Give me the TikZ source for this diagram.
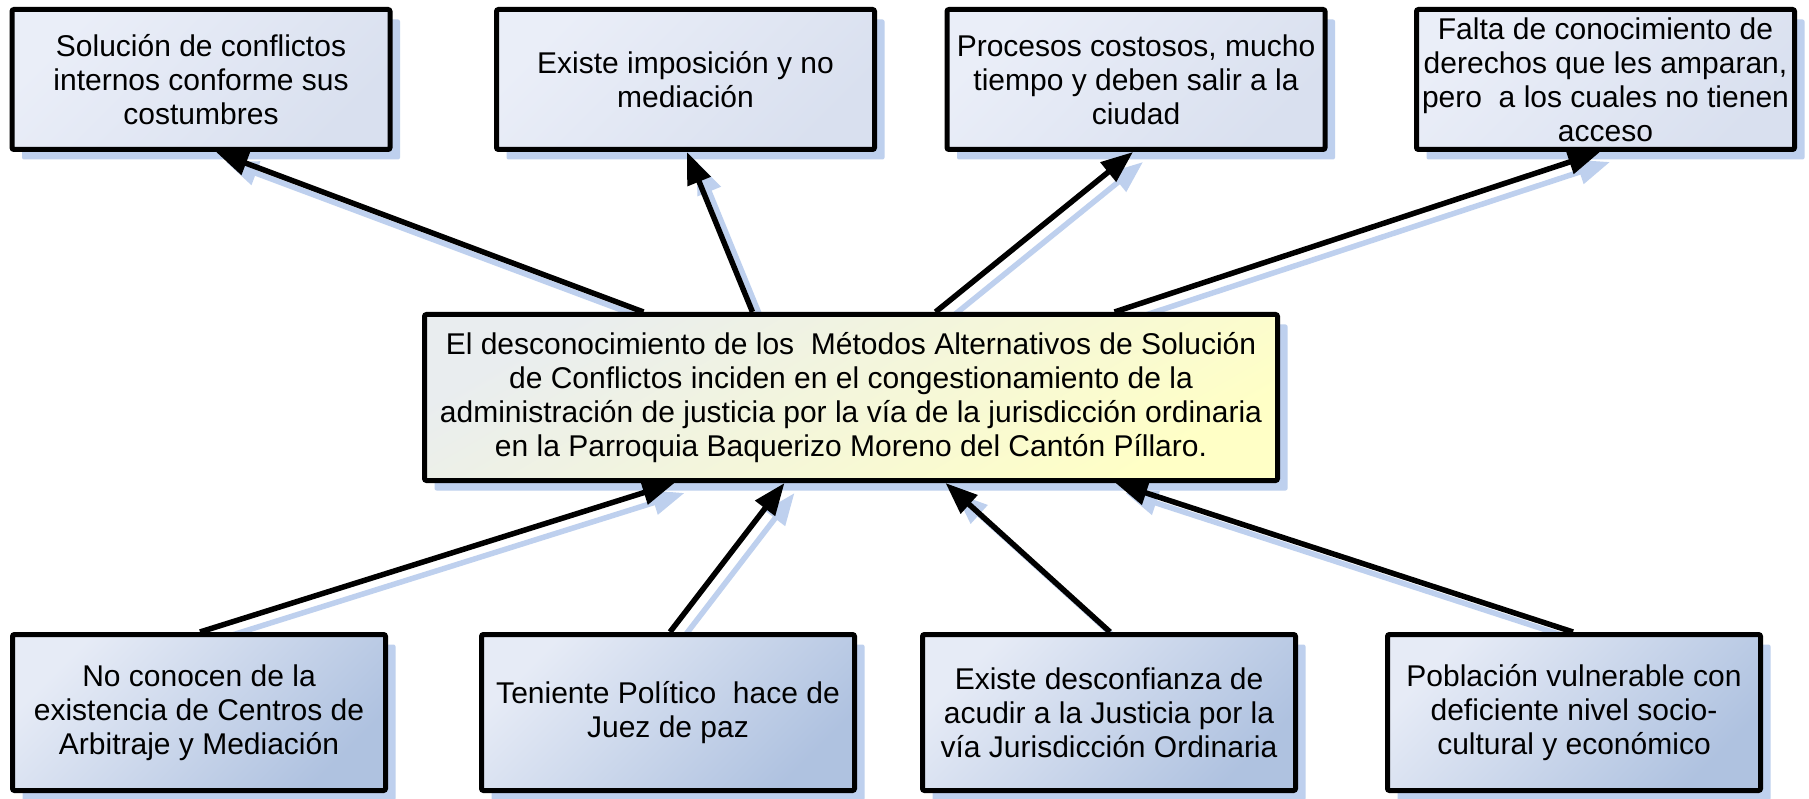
\documentclass[tikz,border=0pt]{standalone}
\usepackage{fontspec}
\setmainfont{Liberation Sans}
\usetikzlibrary{arrows.meta,shadows,backgrounds}
\definecolor{shadowblue}{HTML}{BED0EE}
\definecolor{topA}{HTML}{EAEEF8}
\definecolor{topB}{HTML}{D9E0EF}
\definecolor{botA}{HTML}{E6EBF6}
\definecolor{botB}{HTML}{AFC2E0}
\definecolor{cenA}{HTML}{E9EDEF}
\definecolor{cenB}{HTML}{FFFFC6}
\begin{document}
\begin{tikzpicture}[x=1pt,y=-1pt,
  box/.style={draw=black, line width=5pt, rounded corners=2pt, align=center,
    font=\fontsize{30}{34}\selectfont, inner sep=0pt,
    drop shadow={shadow xshift=10pt, shadow yshift=-10pt, fill=shadowblue, opacity=1}},
  topbox/.style={box, minimum width=378pt, minimum height=140pt,
    top color=topA, bottom color=topB, shading angle=45},
  botbox/.style={box, minimum width=373pt, minimum height=156pt,
    top color=botA, bottom color=botB, shading angle=45},
  cenbox/.style={box, minimum width=853pt, minimum height=166pt,
    top color=cenA, bottom color=cenB, shading angle=30},
  conn/.style={line width=5.5pt, -{Triangle[length=32pt,width=24pt]}},
  connshadow/.style={conn, draw=shadowblue, fill=shadowblue}
]
\useasboundingbox (0,0) rectangle (1809,799);

\node[topbox] (t1) at (201,79.5) {Solución de conflictos\\internos conforme sus\\costumbres};
\node[topbox] (t2) at (685.5,79.5) {Existe imposición y no\\mediación};
\node[topbox] (t3) at (1136,79.5) {Procesos costosos, mucho\\tiempo y deben salir a la\\ciudad};
\node[topbox] (t4) at (1605.5,79.5) {Falta de conocimiento de\\derechos que les amparan,\\pero~ a los cuales no tienen\\acceso};

\node[cenbox] (c) at (851,397.5) {El desconocimiento de los~ Métodos Alternativos de Solución\\de Conflictos inciden en el congestionamiento de la\\administración de justicia por la vía de la jurisdicción ordinaria\\en la Parroquia Baquerizo Moreno del Cantón Píllaro.};

\node[botbox] (b1) at (199,712.5) {No conocen de la\\existencia de Centros de\\Arbitraje y Mediación};
\node[botbox] (b2) at (668,712.5) {Teniente Político~ hace de\\Juez de paz};
\node[botbox] (b3) at (1109,712.5) {Existe desconfianza de\\acudir a la Justicia por la\\vía Jurisdicción Ordinaria};
\node[botbox] (b4) at (1574,712.5) {Población vulnerable con\\deficiente nivel socio-\\cultural y económico};

% connector end points
\coordinate (a1s) at ([xshift=221.5pt]c.north west);
\coordinate (a2s) at ([xshift=330.5pt]c.north west);
\coordinate (a3s) at ([xshift=513.5pt]c.north west);
\coordinate (a4s) at ([xshift=692.5pt]c.north west);
\coordinate (a1e) at ([xshift=15pt]t1.south);
\coordinate (a2e) at ([xshift=1.5pt]t2.south);
\coordinate (a3e) at ([xshift=-3pt]t3.south);
\coordinate (a4e) at ([xshift=-5.5pt]t4.south);
\coordinate (b1s) at ([xshift=1pt]b1.north);
\coordinate (b2s) at ([xshift=2pt]b2.north);
\coordinate (b3s) at ([xshift=1pt]b3.north);
\coordinate (b4s) at ([xshift=-1pt]b4.north);
\coordinate (b1e) at ([xshift=252.5pt]c.south west);
\coordinate (b2e) at ([xshift=362.5pt]c.south west);
\coordinate (b3e) at ([xshift=523.5pt]c.south west);
\coordinate (b4e) at ([xshift=693.5pt]c.south west);

\begin{scope}[on background layer]
  \fill[white] (0,0) rectangle (1809,799);
  \begin{scope}[transform canvas={xshift=10pt,yshift=-10pt}]
    \foreach \s/\e in {a1s/a1e,a2s/a2e,a3s/a3e,a4s/a4e,b1s/b1e,b2s/b2e,b3s/b3e,b4s/b4e}
      \draw[connshadow] (\s) -- (\e);
  \end{scope}
\end{scope}

\draw[conn] (a1s) -- (a1e);
\draw[conn] (a2s) -- (a2e);
\draw[conn] (a3s) -- (a3e);
\draw[conn] (a4s) -- (a4e);
\draw[conn] (b1s) -- (b1e);
\draw[conn] (b2s) -- (b2e);
\draw[conn] (b3s) -- (b3e);
\draw[conn] (b4s) -- (b4e);
\end{tikzpicture}
\end{document}
